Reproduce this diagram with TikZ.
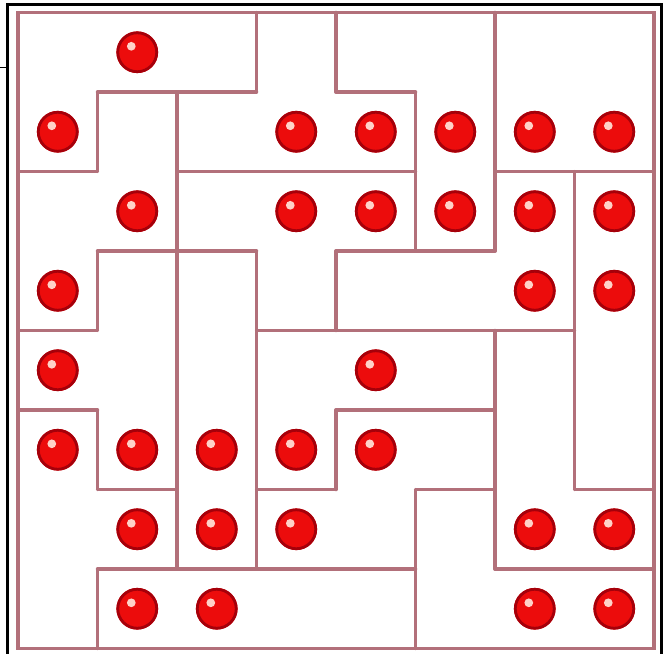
\documentclass[tikz,border=0pt]{standalone}
\usepackage{tikz}
\usetikzlibrary{calc}
\definecolor{wallred}{RGB}{178,112,122}
\definecolor{ballbody}{RGB}{236,12,12}
\definecolor{ballrim}{RGB}{165,0,10}
\definecolor{ballhi}{RGB}{255,210,200}
\tikzset{
  wallln/.style={line width=1.25pt, wallred, line cap=round},
  frameln/.style={line width=1.05pt, black},
  redball/.pic={
    \fill[ballbody] (0,0) circle (0.262);
    \draw[ballrim, line width=1pt] (0,0) circle (0.245);
    \fill[ballhi] (-0.075,-0.075) circle (0.055);
  },
}

\begin{document}
\begin{tikzpicture}[x=1cm, y=-1cm]
        \useasboundingbox (-0.2264,-0.157) rectangle (8.201,8.0566);
        % black frame of the cut-out (its bottom edge falls off the page)
        \draw[frameln] (-0.132,8.2) -- (-0.132,-0.101) -- (8.092,-0.101) -- (8.092,8.2);
        \draw[line width=0.4pt] (-0.3,0.694) -- (-0.132,0.694);
        % outer border of the 8x8 board
        \draw[wallln] (0,0) rectangle (8,8);
        % region walls, horizontal: row/from/to
        \foreach \r/\a/\b in {1/1/3, 1/4/5, 2/0/1, 2/2/5, 2/6/8, 3/1/3, 3/4/6,
            4/0/1, 4/3/7, 5/0/1, 5/4/6, 6/1/2, 6/3/4, 6/5/6, 6/7/8, 7/1/5, 7/6/8}
          \draw[wallln] (\a,\r) -- (\b,\r);
        % region walls, vertical: column/from/to
        \foreach \c/\a/\b in {1/1/2, 1/3/4, 1/5/6, 1/7/8, 2/1/7, 3/0/1, 3/3/7,
            4/0/1, 4/3/4, 4/5/6, 5/1/3, 5/6/8, 6/0/3, 6/4/7, 7/2/6}
          \draw[wallln] (\c,\a) -- (\c,\b);
        % balls, row by row
        \foreach \r/\cols in {0/{1}, 1/{0,3,4,5,6,7}, 2/{1,3,4,5,6,7}, 3/{0,6,7},
            4/{0,4}, 5/{0,1,2,3,4}, 6/{1,2,3,6,7}, 7/{1,2,6,7}}
          \foreach \c in \cols
            \pic at ({\c+0.5},{\r+0.5}) {redball};
      \end{tikzpicture}
\end{document}
